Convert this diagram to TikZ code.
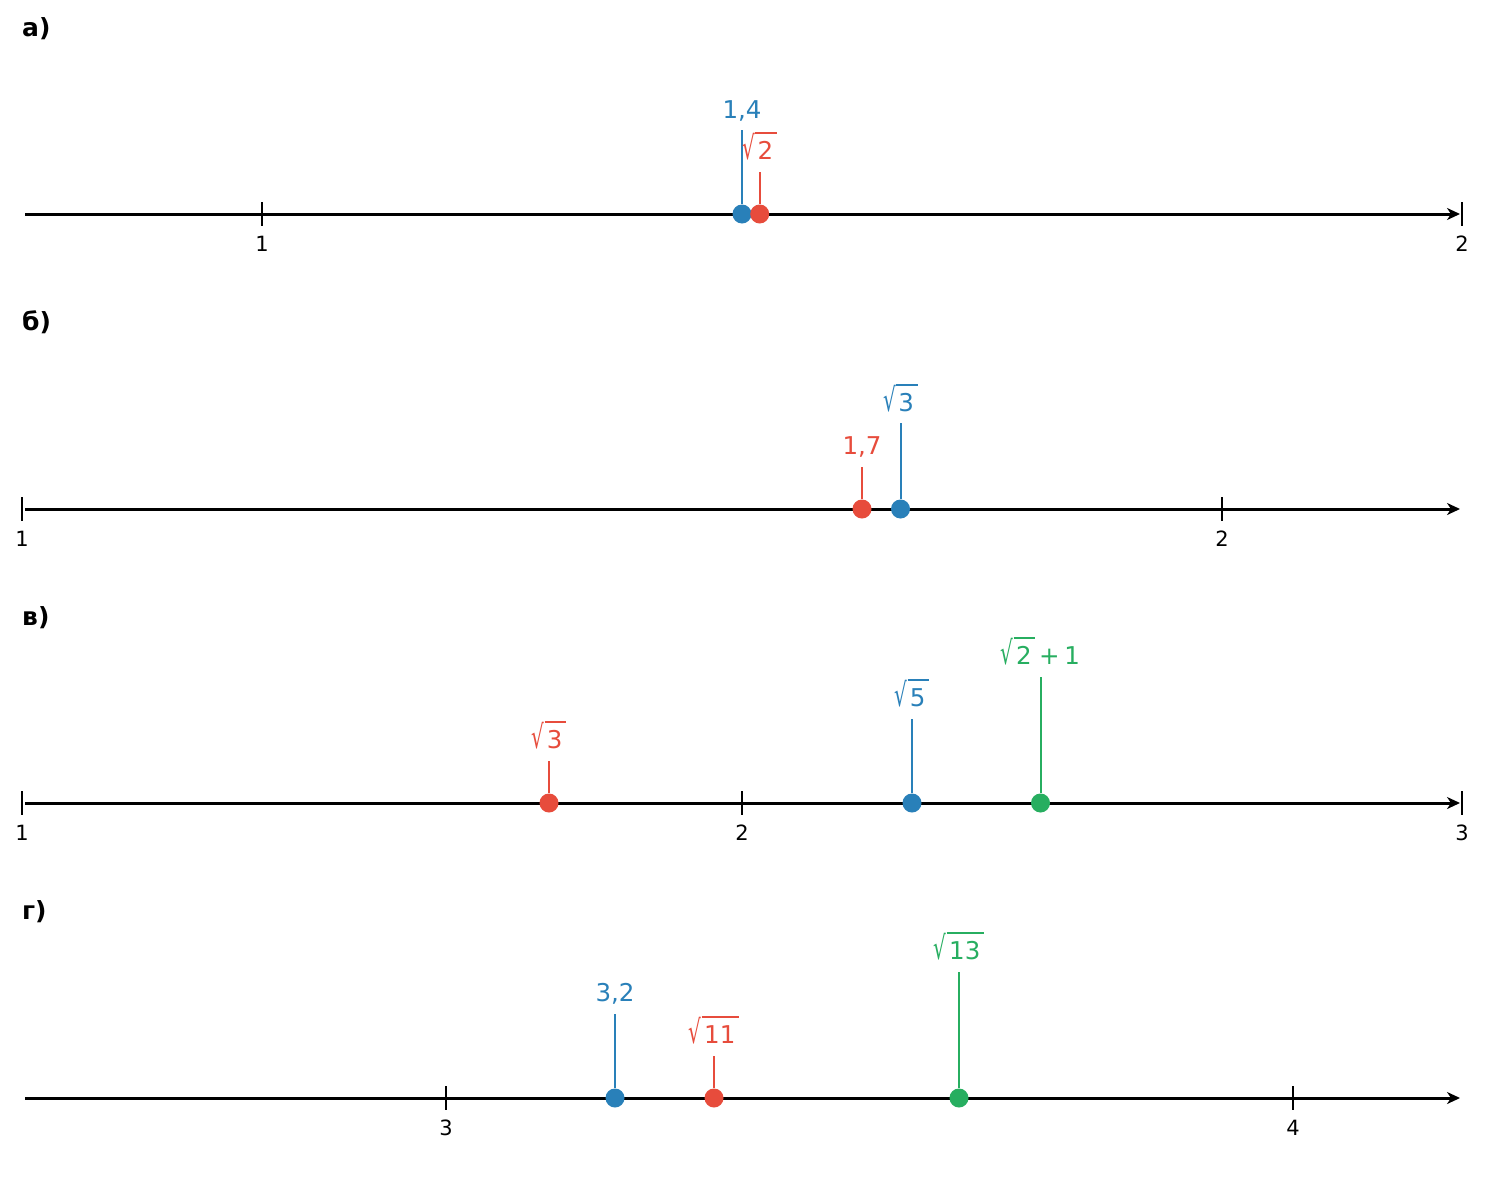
\documentclass[tikz,border=0pt]{standalone}
\usepackage{fontspec}
\usepackage{graphicx}
\setmainfont{DejaVu Sans}
\usetikzlibrary{arrows.meta,calc}
\definecolor{cblue}{HTML}{2980B9}
\definecolor{cred}{HTML}{E74C3C}
\definecolor{cgreen}{HTML}{27AE60}
\newcommand\rt[1]{\setbox0=\hbox{#1}\mbox{\raisebox{-0.02em}{\resizebox*{0.52em}{1.1em}{√}}\rlap{\rule[1.04em]{\dimexpr\wd0+0.25em\relax}{0.05em}}\kern0.1em\box0\kern0.15em}}
\tikzset{
  axisline/.style={line width=3pt,-{Stealth[length=13pt,width=12pt,inset=4pt]}},
  tickmark/.style={line width=2pt},
  edgetick/.style={line width=1.2pt},
  ticklab/.style={font=\fontsize{21}{24}\selectfont,anchor=base,inner sep=0pt},
  ptlab/.style={font=\fontsize{24.5}{28}\selectfont,anchor=base,inner sep=0pt},
  paneltitle/.style={font=\fontsize{25}{30}\selectfont\bfseries,anchor=base west,inner sep=0pt},
  dot/.style={circle,inner sep=0pt,minimum size=19pt},
  stem/.style={line width=2pt}
}
% name, x, axis y, stem length, colour, label, baseline gap
\newcommand\ptmark[7]{%
  \coordinate (#1-top) at (#2,#3-#4);
  \node[dot,fill=#5] (#1) at (#2,#3) {};
  \draw[stem,#5] (#1-top) -- (#1.north);
  \node[ptlab,text=#5] (#1-lab) at (#2,#3-#4-#7) {#6};
}
\newcommand\tk[4]{% name, x, axis y, label
  \coordinate (#1-a) at (#2,#3-12);
  \coordinate (#1-b) at (#2,#3+12);
  \draw[tickmark] (#1-a) -- (#1-b);
  \node[ticklab] (#1-lab) at (#2,#3+37) {#4};
}
\newcommand\etk[4]{% edge tick
  \coordinate (#1-a) at (#2,#3-12);
  \coordinate (#1-b) at (#2,#3+12);
  \draw[edgetick] (#1-a) -- (#1-b);
  \node[ticklab] (#1-lab) at (#2,#3+37) {#4};
}
\begin{document}
\begin{tikzpicture}[x={(1pt,0)},y={(0,-1pt)}]
\useasboundingbox (0,0) rectangle (1485,1183);
\fill[white] (0,0) rectangle (1485,1183);

% ---------- a)
\node[paneltitle] (ta) at (22,36) {а)};
\coordinate (a-s) at (25,214);
\coordinate (a-e) at (1460,214);
\draw[axisline] (a-s) -- (a-e);
\tk{a1}{262}{214}{1}
\etk{a2}{1462}{214}{2}
\ptmark{a14}{742}{214}{84}{cblue}{1,4}{12}
\ptmark{ar2}{759.7}{214}{42}{cred}{\rt{2}}{13}

% ---------- б)
\node[paneltitle] (tb) at (22,330) {б)};
\coordinate (b-s) at (25,509);
\coordinate (b-e) at (1460,509);
\draw[axisline] (b-s) -- (b-e);
\etk{b1}{22}{509}{1}
\tk{b2}{1222}{509}{2}
\ptmark{b17}{862}{509}{42}{cred}{1,7}{13}
\ptmark{br3}{900.5}{509}{86}{cblue}{\rt{3}}{12}

% ---------- в)
\node[paneltitle] (tc) at (22,625) {в)};
\coordinate (c-s) at (25,803);
\coordinate (c-e) at (1460,803);
\draw[axisline] (c-s) -- (c-e);
\etk{c1}{22}{803}{1}
\tk{c2}{742}{803}{2}
\etk{c3}{1462}{803}{3}
\ptmark{cr3}{549}{803}{42}{cred}{\rt{3}}{13}
\ptmark{cr5}{912}{803}{84}{cblue}{\rt{5}}{13}
\ptmark{cr21}{1040.5}{803}{126}{cgreen}{\rt{2}\kern0.15em+\kern0.2em1}{13}

% ---------- г)
\node[paneltitle] (td) at (22,919) {г)};
\coordinate (d-s) at (25,1098);
\coordinate (d-e) at (1460,1098);
\draw[axisline] (d-s) -- (d-e);
\tk{d3}{446}{1098}{3}
\tk{d4}{1293}{1098}{4}
\ptmark{d32}{615}{1098}{84}{cblue}{3,2}{13}
\ptmark{dr11}{714}{1098}{42}{cred}{\rt{11}}{13}
\ptmark{dr13}{959}{1098}{126}{cgreen}{\rt{13}}{13}
\end{tikzpicture}
\end{document}
